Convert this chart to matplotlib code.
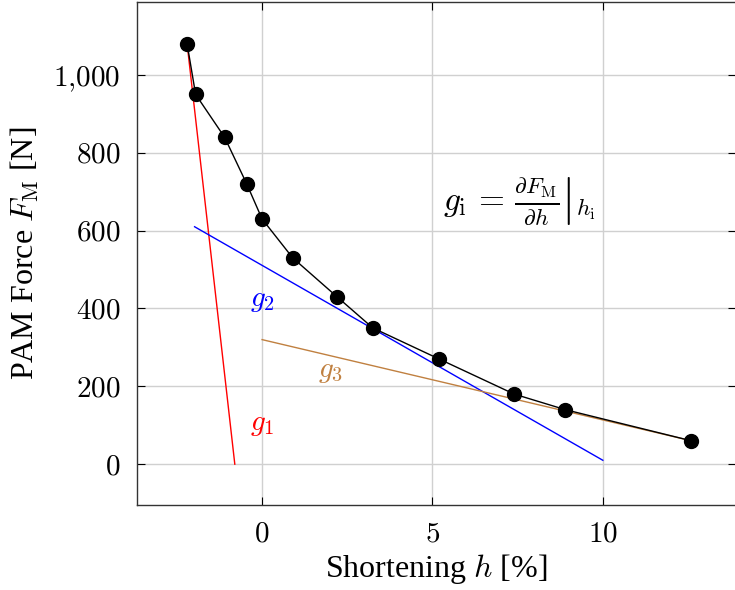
import matplotlib
matplotlib.use("Agg")
import matplotlib.pyplot as plt
from matplotlib.ticker import FuncFormatter

plt.rcParams['font.family'] = ['Liberation Serif', 'DejaVu Serif']
plt.rcParams['mathtext.fontset'] = 'cm'

# measured PAM force vs shortening
h = [-2.2, -1.95, -1.1, -0.45, 0.0, 0.9, 2.2, 3.25, 5.2, 7.4, 8.9, 12.6]
force = [1080, 950, 840, 720, 630, 530, 430, 350, 270, 180, 140, 60]

# tangent lines g1, g2, g3 (end points)
g1_x = [-2.2, -0.8]
g1_y = [1080, 0]
g2_x = [-1.98, 10.0]
g2_y = [610, 10]
g3_x = [0.0, 12.6]
g3_y = [320, 60]

xticks = [0, 5, 10]
yticks = [0, 200, 400, 600, 800, 1000]

fig = plt.figure(figsize=(7.35, 5.9), dpi=100)
ax = fig.add_axes([0.1864, 0.144, 0.8146, 0.853])

ax.plot(g1_x, g1_y, color='red', lw=1.0, zorder=3)
ax.plot(g2_x, g2_y, color='blue', lw=1.0, zorder=3)
ax.plot(g3_x, g3_y, color='#c08040', lw=1.0, zorder=3)
ax.plot(h, force, color='black', lw=1.0, marker='o', ms=10, zorder=4)

ax.text(0.0, 100, r'$g_1$', color='red', fontsize=21, ha='center', va='center')
ax.text(0.0, 420, r'$g_2$', color='blue', fontsize=21, ha='center', va='center')
ax.text(2.0, 236, r'$g_3$', color='#c08040', fontsize=21, ha='center', va='center')
ax.text(5.3, 675,
        r'$g_\mathrm{i}\,=\,\left.\frac{\partial F_\mathrm{M}}{\partial h}\right|_{h_\mathrm{i}}$',
        fontsize=24, ha='left', va='center')

ax.set_xlim(-3.67, 13.9)
ax.set_ylim(-105, 1188)
ax.set_xticks(xticks)
ax.set_yticks(yticks)
ax.xaxis.set_major_formatter(FuncFormatter(lambda v, p: r'$%d$' % v))
ax.yaxis.set_major_formatter(FuncFormatter(lambda v, p: (r'$%s$' % f'{int(v):,}').replace(',', '{,}')))
ax.tick_params(direction='in', labelsize=21, length=6, top=True, right=True, pad=12)
ax.grid(True, color='#d0d0d0', lw=1.0)
ax.set_axisbelow(True)
for s in ax.spines.values():
    s.set_linewidth(1.0)
    s.set_color('#333333')

ax.set_xlabel(r'Shortening $h$ [%]', fontsize=23, labelpad=3)
ax.set_ylabel(r'PAM Force $F_\mathrm{M}$ [N]', fontsize=23, labelpad=9)

fig.savefig('out.png', dpi=100)
